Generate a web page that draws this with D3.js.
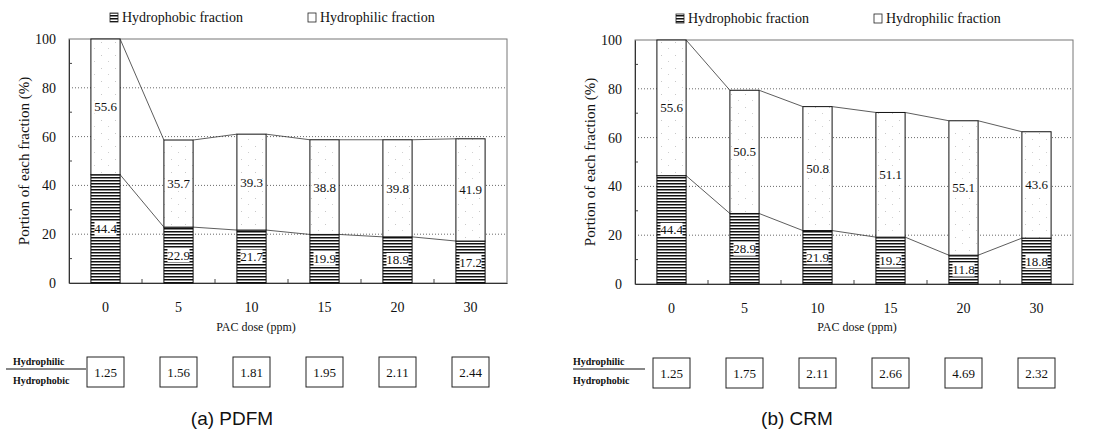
<!DOCTYPE html>
<html>
<head>
<meta charset="utf-8">
<script src="https://cdn.jsdelivr.net/npm/d3@7"></script>
<style>
  body { margin: 0; background: #fff; }
  svg text { font-family: 'Liberation Serif', 'DejaVu Serif', 'Times New Roman', serif; fill: #111; }
</style>
</head>
<body>
<div id="chart"></div>
<script>
const doses = ['0', '5', '10', '15', '20', '30'];
const yTicks = [0, 20, 40, 60, 80, 100];
const legendLabels = ['Hydrophobic fraction', 'Hydrophilic fraction'];

const pdfmHydrophobic = [44.4, 22.9, 21.7, 19.9, 18.9, 17.2];
const pdfmHydrophilic = [55.6, 35.7, 39.3, 38.8, 39.8, 41.9];
const pdfmRatio = [1.25, 1.56, 1.81, 1.95, 2.11, 2.44];

const crmHydrophobic = [44.4, 28.9, 21.9, 19.2, 11.8, 18.8];
const crmHydrophilic = [55.6, 50.5, 50.8, 51.1, 55.1, 43.6];
const crmRatio = [1.25, 1.75, 2.11, 2.66, 4.69, 2.32];

const serif = "'Liberation Serif', 'DejaVu Serif', serif";

const svg = d3
  .select('#chart')
  .append('svg')
  .attr('width', 1103)
  .attr('height', 436);

const defs = svg.append('defs');

// horizontal hatching for hydrophobic part
const hatch = defs
  .append('pattern')
  .attr('id', 'hatch')
  .attr('patternUnits', 'userSpaceOnUse')
  .attr('width', 6)
  .attr('height', 3);
hatch.append('rect').attr('width', 6).attr('height', 3).attr('fill', '#fff');
hatch.append('rect').attr('width', 6).attr('height', 1.5).attr('fill', '#111');

// sparse stipple for hydrophilic part
const dots = defs
  .append('pattern')
  .attr('id', 'dots')
  .attr('patternUnits', 'userSpaceOnUse')
  .attr('width', 14)
  .attr('height', 13);
dots.append('rect').attr('width', 14).attr('height', 13).attr('fill', '#fff');
dots.append('rect').attr('x', 3).attr('y', 3).attr('width', 1).attr('height', 1).attr('fill', '#c8c8c8');
dots.append('rect').attr('x', 10).attr('y', 9).attr('width', 1).attr('height', 1).attr('fill', '#d0d0d0');

const fmt = d3.format('.2f');

const drawPanel = (cfg) => {
  const { x0, x1, y0, y1 } = cfg;
  const g = svg.append('g').style('font-family', serif);

  const x = d3
    .scaleBand()
    .domain(doses)
    .range([x0, x1])
    .paddingInner(0.6)
    .paddingOuter(0.3);
  const y = d3.scaleLinear().domain([0, 100]).range([y1, y0]);
  const bw = x.bandwidth();

  const data = doses.map((d, i) => ({
    dose: d,
    pho: cfg.hydrophobic[i],
    phi: cfg.hydrophilic[i],
    total: cfg.hydrophobic[i] + cfg.hydrophilic[i],
    ratio: cfg.ratio[i],
  }));

  // legend
  const lg = g.append('g');
  [0, 1].forEach((k) => {
    const lx = x0 + 41 + k * 198;
    lg.append('rect')
      .attr('x', lx)
      .attr('y', y0 - 26)
      .attr('width', 8)
      .attr('height', 9)
      .attr('fill', k === 0 ? 'url(#hatch)' : '#fff')
      .attr('stroke', '#222')
      .attr('stroke-width', 0.8);
    lg.append('text')
      .attr('x', lx + 12)
      .attr('y', y0 - 17)
      .attr('font-size', 14)
      .style('font-family', serif)
      .text(legendLabels[k]);
  });

  // gridlines
  g.selectAll('.grid')
    .data(yTicks.filter((t) => t > 0 && t < 100))
    .join('line')
    .attr('x1', x0)
    .attr('x2', x1)
    .attr('y1', (d) => y(d))
    .attr('y2', (d) => y(d))
    .attr('stroke', '#444')
    .attr('stroke-width', 0.8)
    .attr('stroke-dasharray', '1,2');

  // frame
  g.append('rect')
    .attr('x', x0)
    .attr('y', y0)
    .attr('width', x1 - x0)
    .attr('height', y1 - y0)
    .attr('fill', 'none')
    .attr('stroke', '#777')
    .attr('stroke-width', 1);

  // minor ticks
  g.selectAll('.minor')
    .data(d3.range(10, 100, 20))
    .join('line')
    .attr('x1', x0)
    .attr('x2', x0 + 3)
    .attr('y1', (d) => y(d))
    .attr('y2', (d) => y(d))
    .attr('stroke', '#444');

  // y axis
  g.append('g')
    .attr('transform', `translate(${x0},0)`)
    .call(d3.axisLeft(y).tickValues(yTicks).tickSize(0).tickPadding(13))
    .call((a) => a.select('.domain').attr('stroke', '#333'))
    .call((a) => a.selectAll('text').attr('font-size', 14).style('font-family', serif));

  // x axis
  g.append('g')
    .attr('transform', `translate(0,${y1})`)
    .call(d3.axisBottom(x).tickSize(0).tickPadding(19))
    .call((a) => a.select('.domain').attr('stroke', '#333'))
    .call((a) => a.selectAll('text').attr('font-size', 14).style('font-family', serif));

  // category boundary ticks
  g.selectAll('.bound')
    .data(doses.slice(1))
    .join('line')
    .attr('x1', (d) => x(d) - (x.step() - bw) / 2)
    .attr('x2', (d) => x(d) - (x.step() - bw) / 2)
    .attr('y1', y1)
    .attr('y2', y1 - 4)
    .attr('stroke', '#444');

  // bars
  g.selectAll('.pho')
    .data(data)
    .join('rect')
    .attr('x', (d) => x(d.dose))
    .attr('width', bw)
    .attr('y', (d) => y(d.pho))
    .attr('height', (d) => y(0) - y(d.pho))
    .attr('fill', 'url(#hatch)')
    .attr('stroke', '#111');

  g.selectAll('.phi')
    .data(data)
    .join('rect')
    .attr('x', (d) => x(d.dose))
    .attr('width', bw)
    .attr('y', (d) => y(d.total))
    .attr('height', (d) => y(d.pho) - y(d.total))
    .attr('fill', 'url(#dots)')
    .attr('stroke', '#111');

  // series lines
  ['pho', 'total'].forEach((key) => {
    g.selectAll(`.sl-${key}`)
      .data(data.slice(0, -1))
      .join('line')
      .attr('x1', (d) => x(d.dose) + bw)
      .attr('y1', (d) => y(d[key]))
      .attr('x2', (d, i) => x(data[i + 1].dose))
      .attr('y2', (d, i) => y(data[i + 1][key]))
      .attr('stroke', '#333')
      .attr('stroke-width', 0.8);
  });

  // value labels
  const labels = [];
  data.forEach((d) => {
    labels.push({ dose: d.dose, v: d.pho, mid: d.pho / 2 });
    labels.push({ dose: d.dose, v: d.phi, mid: d.pho + d.phi / 2 });
  });
  const lbl = g
    .selectAll('.lbl')
    .data(labels)
    .join('g')
    .attr('transform', (d) => `translate(${x(d.dose) + bw / 2},${y(d.mid)})`);
  lbl.append('rect')
    .attr('x', -11)
    .attr('y', -7)
    .attr('width', 22)
    .attr('height', 14)
    .attr('fill', '#fff');
  lbl.append('text')
    .attr('text-anchor', 'middle')
    .attr('dominant-baseline', 'central')
    .attr('font-size', 13)
    .style('font-family', serif)
    .text((d) => d.v.toFixed(1));

  // axis titles
  g.append('text')
    .attr('transform', `translate(${x0 - 45},${(y0 + y1) / 2}) rotate(-90)`)
    .attr('text-anchor', 'middle')
    .attr('dominant-baseline', 'central')
    .attr('font-size', 15)
    .style('font-family', serif)
    .text('Portion of each fraction (%)');

  g.append('text')
    .attr('x', cfg.titleX)
    .attr('y', 327)
    .attr('text-anchor', 'middle')
    .attr('dominant-baseline', 'central')
    .attr('font-size', 12)
    .style('font-family', serif)
    .text('PAC dose (ppm)');

  // ratio row
  g.append('text')
    .attr('x', cfg.fracX)
    .attr('y', 361)
    .attr('dominant-baseline', 'central')
    .attr('font-size', 10)
    .attr('font-weight', 'bold')
    .style('font-family', serif)
    .text('Hydrophilic');
  g.append('line')
    .attr('x1', cfg.lineX[0])
    .attr('x2', cfg.lineX[1])
    .attr('y1', 369)
    .attr('y2', 369)
    .attr('stroke', '#111')
    .attr('stroke-width', 1.2);
  g.append('text')
    .attr('x', cfg.fracX)
    .attr('y', 380)
    .attr('dominant-baseline', 'central')
    .attr('font-size', 10)
    .attr('font-weight', 'bold')
    .style('font-family', serif)
    .text('Hydrophobic');

  const boxes = g
    .selectAll('.ratio')
    .data(data)
    .join('g')
    .attr('transform', (d) => `translate(${x(d.dose) + bw / 2},${cfg.boxY})`);
  boxes.append('rect')
    .attr('x', -18.5)
    .attr('y', 0)
    .attr('width', 37)
    .attr('height', 30)
    .attr('fill', '#fff')
    .attr('stroke', '#222');
  boxes.append('text')
    .attr('y', 15)
    .attr('text-anchor', 'middle')
    .attr('dominant-baseline', 'central')
    .attr('font-size', 13)
    .style('font-family', serif)
    .text((d) => fmt(d.ratio));

  g.append('text')
    .attr('x', cfg.captionX)
    .attr('y', 418)
    .attr('text-anchor', 'middle')
    .attr('dominant-baseline', 'central')
    .attr('font-size', 19)
    .style('font-family', "'Liberation Sans', Arial, sans-serif")
    .text(cfg.caption);
};

drawPanel({
  x0: 69,
  x1: 507,
  y0: 39,
  y1: 283,
  hydrophobic: pdfmHydrophobic,
  hydrophilic: pdfmHydrophilic,
  ratio: pdfmRatio,
  titleX: 256,
  fracX: 13,
  lineX: [6, 86],
  boxY: 357,
  captionX: 232,
  caption: '(a) PDFM',
});

drawPanel({
  x0: 635,
  x1: 1073,
  y0: 40,
  y1: 284,
  hydrophobic: crmHydrophobic,
  hydrophilic: crmHydrophilic,
  ratio: crmRatio,
  titleX: 857,
  fracX: 573,
  lineX: [573, 645],
  boxY: 358,
  captionX: 797,
  caption: '(b) CRM',
});
</script>
</body>
</html>
